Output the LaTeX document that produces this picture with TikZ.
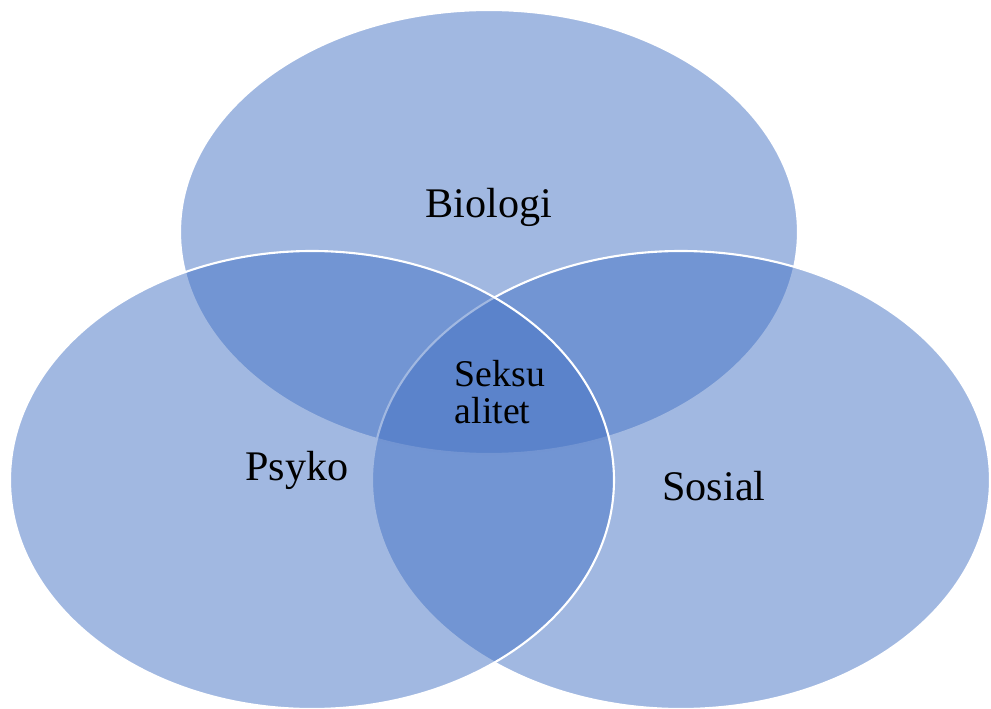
\documentclass[tikz,border=0pt]{standalone}
\usepackage{fontspec}
\setmainfont{Liberation Serif}
\definecolor{C0}{RGB}{68,114,196}

\tikzset{
  circ/.style={fill=C0,fill opacity=0.5,draw=white,line width=1.2pt},
  lbl/.style={font=\fontsize{24}{28}\selectfont,text=black},
}

\begin{document}
\begin{tikzpicture}[x=0.02cm,y=-0.02cm]

  % Page frame.
  \useasboundingbox (0,0) rectangle (991,709);

  % Three circles.
  \draw[circ] (489,232) ellipse [x radius=309,y radius=222]; % biologi
  \draw[circ] (681,480) ellipse [x radius=309,y radius=229]; % sosial
  \draw[circ] (312,480) ellipse [x radius=302,y radius=229]; % psyko

  % Labels.
  \node[lbl] (bio) at (489,207) {Biologi};
  \node[lbl] (psy) at (297,470) {Psyko};
  \node[lbl] (sos) at (714,486) {Sosial};
  \node[lbl,font=\fontsize{21.5}{21.5}\selectfont,align=left] (sex) at (500,392) {Seksu\\alitet};

\end{tikzpicture}
\end{document}
